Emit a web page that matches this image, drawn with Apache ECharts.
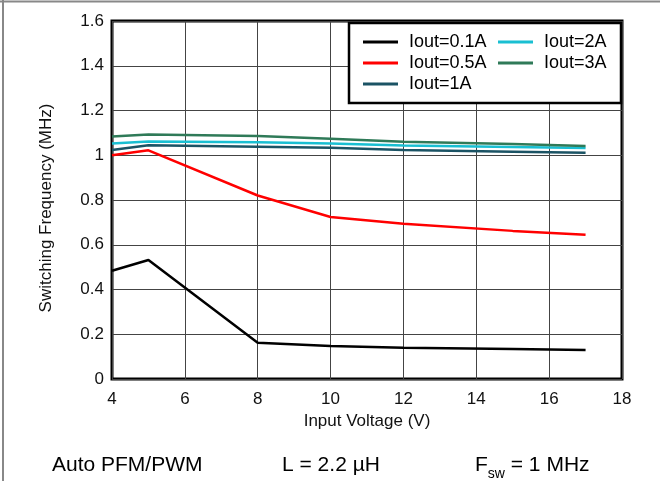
<!DOCTYPE html>
<html>
<head>
<meta charset="utf-8">
<script src="https://cdn.jsdelivr.net/npm/echarts@6/dist/echarts.min.js"></script>
<style>
  html, body { margin: 0; padding: 0; background: #fff; }
  #chart { width: 660px; height: 481px; }
</style>
</head>
<body>
<div id="chart"></div>
<script>
// input voltage (V) where the curves were measured
const vin = [4, 5, 8, 10, 12, 15, 17];
// switching frequency (MHz) for each load current
const f01 = [0.484, 0.532, 0.162, 0.147, 0.14, 0.134, 0.13];
const f05 = [1.0, 1.022, 0.82, 0.724, 0.694, 0.662, 0.645];
const f1 = [1.023, 1.045, 1.038, 1.033, 1.023, 1.016, 1.011];
const f2 = [1.053, 1.062, 1.058, 1.052, 1.044, 1.037, 1.032];
const f3 = [1.084, 1.093, 1.086, 1.074, 1.06, 1.05, 1.041];
const names = ['Iout=0.1A', 'Iout=0.5A', 'Iout=1A', 'Iout=2A', 'Iout=3A'];
const colors = ['#000000', '#ff0000', '#1b5364', '#19bfd2', '#2f7a58'];

const FONT = '"Liberation Sans", Arial, sans-serif';

function pairs(ys) {
  return vin.map((x, i) => [x, ys[i]]);
}

const chart = echarts.init(document.getElementById('chart'));

const lineSeries = [f01, f05, f1, f2, f3].map((ys, i) => ({
  name: names[i],
  type: 'line',
  data: pairs(ys),
  showSymbol: false,
  lineStyle: { width: 2.5, color: colors[i] },
  itemStyle: { color: colors[i] },
  animation: false,
}));

const legendCommon = {
  orient: 'vertical',
  top: 33,
  z: 100,
  padding: 0,
  itemWidth: 35,
  itemHeight: 3,
  itemGap: 3,
  icon: 'rect',
  selectedMode: false,
  textStyle: { fontFamily: FONT, fontSize: 18, color: '#000', padding: [0, 0, 0, 6] },
};

chart.setOption({
  animation: false,
  grid: {
    left: 112,
    right: 38,
    top: 21,
    bottom: 102,
    show: true,
    borderColor: '#000',
    borderWidth: 3,
  },
  xAxis: {
    type: 'value',
    min: 4,
    max: 18,
    interval: 2,
    name: 'Input Voltage (V)',
    nameLocation: 'middle',
    nameGap: 34,
    nameTextStyle: { fontFamily: FONT, fontSize: 17, color: '#111' },
    axisLine: { show: false },
    axisTick: { show: false },
    axisLabel: { fontFamily: FONT, fontSize: 17, color: '#111', margin: 12 },
    splitLine: { lineStyle: { color: '#444', width: 1 } },
  },
  yAxis: {
    type: 'value',
    min: 0,
    max: 1.6,
    interval: 0.2,
    name: 'Switching Frequency (MHz)',
    nameLocation: 'middle',
    nameGap: 57,
    nameTextStyle: { fontFamily: FONT, fontSize: 17, color: '#111', padding: [0, 0, 0, -16] },
    axisLine: { show: false },
    axisTick: { show: false },
    axisLabel: { fontFamily: FONT, fontSize: 17, color: '#111', margin: 8 },
    splitLine: { lineStyle: { color: '#444', width: 1 } },
  },
  legend: [
    Object.assign({ left: 363, data: names.slice(0, 3) }, legendCommon),
    Object.assign({ left: 498, data: names.slice(3) }, legendCommon),
  ],
  graphic: [
    // legend box
    {
      type: 'rect',
      z: 90,
      shape: { x: 349, y: 23, width: 272, height: 80 },
      style: { fill: '#fff', stroke: '#000', lineWidth: 2.5 },
    },
    // outer frame (top and left)
    {
      type: 'line',
      shape: { x1: 0, y1: 1.5, x2: 660, y2: 1.5 },
      style: { stroke: '#888', lineWidth: 2 },
    },
    {
      type: 'line',
      shape: { x1: 3, y1: 0, x2: 3, y2: 481 },
      style: { stroke: '#888', lineWidth: 2 },
    },
    // conditions under the chart
    {
      type: 'text',
      left: 52,
      top: 455,
      style: { text: 'Auto PFM/PWM', font: '21px ' + FONT, fill: '#000' },
    },
    {
      type: 'text',
      left: 282,
      top: 455,
      style: { text: 'L = 2.2 µH', font: '21px ' + FONT, fill: '#000' },
    },
    {
      type: 'text',
      left: 475,
      top: 455,
      style: {
        text: '{a|F}{s|sw}{a| = 1 MHz}',
        rich: {
          a: { fontFamily: FONT, fontSize: 21, color: '#000', verticalAlign: 'bottom' },
          s: { fontFamily: FONT, fontSize: 14, color: '#000', verticalAlign: 'bottom', padding: [0, 0, -5, 0] },
        },
      },
    },
  ],
  series: lineSeries,
});
</script>
</body>
</html>
